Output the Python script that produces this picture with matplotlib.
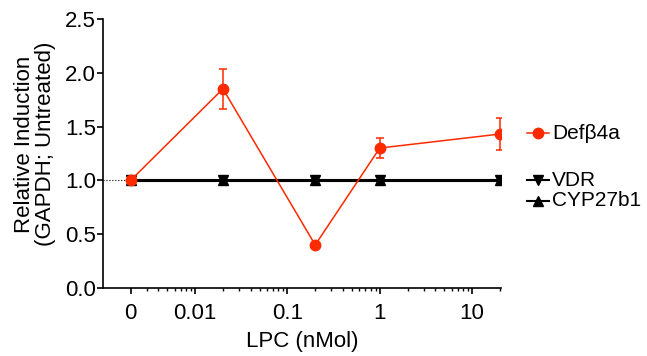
import numpy as np
import matplotlib.pyplot as plt
from matplotlib.ticker import LogLocator, NullFormatter, FixedLocator, FixedFormatter

plt.rcParams['font.family'] = ['Liberation Sans', 'DejaVu Sans']

####################################
#               Data               #
####################################

# LPC dose (nMol); 0 is drawn at a stand-in position on the log axis
dose = [0, 0.02, 0.2, 1, 20]
zero_pos = 0.002

defb4a = [1.0, 1.85, 0.40, 1.30, 1.43]
defb4a_err = [0.0, 0.185, 0.0, 0.09, 0.15]
vdr = [1.0, 1.0, 1.0, 1.0, 1.0]
cyp27b1 = [1.0, 1.0, 1.0, 1.0, 1.0]

xtick_vals = [0.002, 0.01, 0.1, 1, 10]
xtick_labels = ['0', '0.01', '0.1', '1', '10']
ytick_vals = [0.0, 0.5, 1.0, 1.5, 2.0, 2.5]

red = '#ff2a00'
fs = 16

####################################
#               Plot               #
####################################

fig = plt.figure(figsize=(6.47, 3.56), dpi=100)
ax = fig.add_axes([0.159, 0.191, 0.615, 0.756])

x = [zero_pos if d == 0 else d for d in dose]

ax.axhline(1.0, color='black', lw=0.8, ls=':', zorder=1)
ax.plot(x, vdr, color='black', lw=2.2, marker='v', ms=7.5, zorder=3)
ax.plot(x, cyp27b1, color='black', lw=2.2, marker='^', ms=7.5, zorder=3)
ax.errorbar(x, defb4a, yerr=defb4a_err, color=red, lw=1.1, marker='o',
            ms=7.5, capsize=3, elinewidth=1.1, capthick=1.1, zorder=4)

ax.set_xscale('log')
ax.set_xlim(0.001, 20.5)
ax.set_ylim(0, 2.5)

ax.xaxis.set_major_locator(FixedLocator(xtick_vals))
ax.xaxis.set_major_formatter(FixedFormatter(xtick_labels))
ax.xaxis.set_minor_locator(LogLocator(base=10, subs=np.arange(2, 10)))
ax.xaxis.set_minor_formatter(NullFormatter())
ax.set_yticks(ytick_vals)
ax.set_yticklabels([f'{v:.1f}' for v in ytick_vals])

for s in ['top', 'right']:
    ax.spines[s].set_visible(False)
for s in ['left', 'bottom']:
    ax.spines[s].set_linewidth(1.2)
ax.tick_params(axis='both', which='major', direction='out', length=4.5,
               width=1.2, labelsize=fs, colors='black')
ax.tick_params(axis='x', which='minor', direction='out', length=2.5, width=1)
ax.tick_params(axis='x', which='major', pad=6)
ax.tick_params(axis='y', which='major', pad=0.5)

ax.set_xlabel('LPC (nMol)', fontsize=fs, labelpad=5)
ax.set_ylabel('Relative Induction\n(GAPDH; Untreated)', fontsize=fs,
              linespacing=1.0)
ax.yaxis.set_label_coords(-0.118, 0.535)

# legend entries placed beside the axes
entries = [
    ('Defβ4a', dict(color=red, marker='o', ms=7.5, lw=1.1), 133),
    ('VDR', dict(color='black', marker='v', ms=7.5, lw=1.5), 180),
    ('CYP27b1', dict(color='black', marker='^', ms=7.5, lw=1.5), 201),
]
for label, style, ypix in entries:
    yf = 1 - ypix / 356
    fig.add_artist(plt.Line2D([0.815, 0.832, 0.849], [yf, yf, yf],
                              markevery=[1], **style))
    fig.text(0.853, yf, label, fontsize=15, va='center', ha='left')

fig.savefig('out.png', dpi=100)
